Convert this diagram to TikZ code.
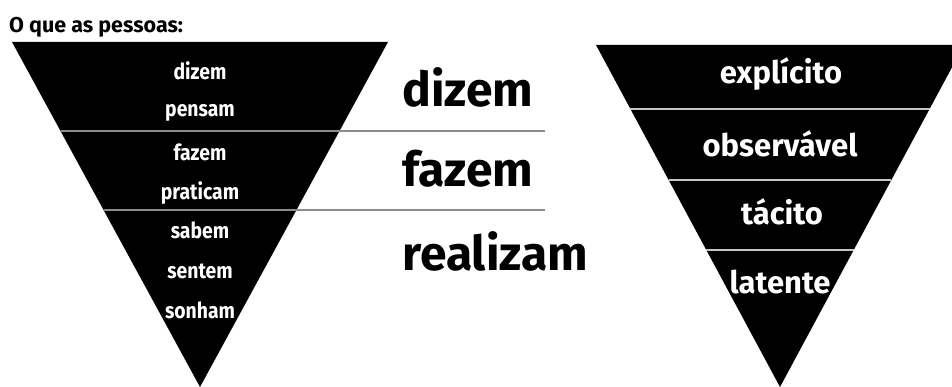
\documentclass[tikz,border=0pt]{standalone}
\usepackage{fontspec}
\setmainfont{Fira Sans}
\newfontfamily\condf{Fira Sans}[FakeStretch=0.88]
\begin{document}
\begin{tikzpicture}[x=1pt,y=-1pt,
  title/.style={text=black,font=\bfseries\fontsize{21.5}{21.5}\selectfont,anchor=base west,inner sep=0},
  lbl/.style={text=white,font=\condf\bfseries\fontsize{22}{22}\selectfont,anchor=base,inner sep=0},
  big/.style={text=black,font=\bfseries\fontsize{48}{48}\selectfont,anchor=base west,inner sep=0},
  rlbl/.style={text=white,font=\bfseries\fontsize{31}{31}\selectfont,anchor=base,inner sep=0},
  sep/.style={draw=black!45,line width=1.6pt},
  rsep/.style={draw=black!22,line width=2pt}]
\useasboundingbox (0,0) rectangle (952,387);
\clip (0,0) rectangle (952,387);
% left triangle
\coordinate (LA) at (12,42);
\coordinate (LB) at (388,42);
\coordinate (LC) at (200,387);
\fill[black] (LA) -- (LB) -- (LC) -- cycle;
\coordinate (s1a) at (60.5,131);
\coordinate (s1b) at (545,131);
\coordinate (s2a) at (103.5,210);
\coordinate (s2b) at (545,210);
\draw[sep] (s1a) -- (s1b);
\draw[sep] (s2a) -- (s2b);
% right triangle
\coordinate (RA) at (596,45);
\coordinate (RB) at (964,45);
\coordinate (RC) at (780,387);
\fill[black] (RA) -- (RB) -- (RC) -- cycle;
\coordinate (r1a) at (630.4,109);
\coordinate (r1b) at (929.6,109);
\coordinate (r2a) at (668.6,180);
\coordinate (r2b) at (891.4,180);
\coordinate (r3a) at (706.3,250);
\coordinate (r3b) at (853.7,250);
\draw[rsep] (r1a) -- (r1b);
\draw[rsep] (r2a) -- (r2b);
\draw[rsep] (r3a) -- (r3b);
% texts
\node[title] (t) at (9,33) {O que as pessoas:};
\node[lbl] (l1) at (200,80) {dizem};
\node[lbl] (l2) at (200,117) {pensam};
\node[lbl] (l3) at (200,161) {fazem};
\node[lbl] (l4) at (200,200) {praticam};
\node[lbl] (l5) at (200,239) {sabem};
\node[lbl] (l6) at (200,278) {sentem};
\node[lbl] (l7) at (200,318) {sonham};
\node[big] (m1) at (402,107) {dizem};
\node[big] (m2) at (402,187) {fazem};
\node[big] (m3) at (402,270) {realizam};
\node[rlbl] (r1) at (781,84) {explícito};
\node[rlbl] (r2) at (780,157) {observável};
\node[rlbl] (r3) at (782,225) {tácito};
\node[rlbl] (r4) at (780,293) {latente};
\end{tikzpicture}
\end{document}
